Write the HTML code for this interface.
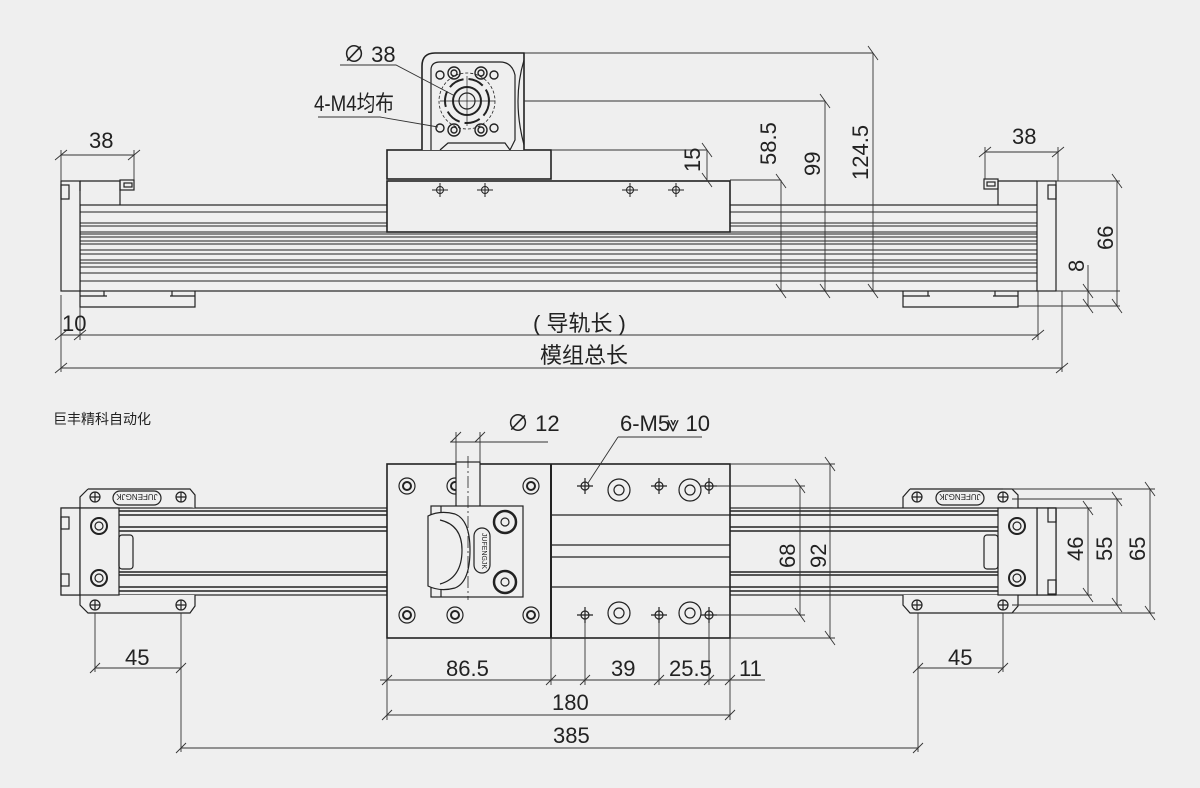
<!DOCTYPE html>
<html><head><meta charset="utf-8"><style>
html,body{margin:0;padding:0;background:#efefef;}
svg{display:block}
text{font-family:"Liberation Sans","Noto Sans CJK SC",sans-serif;fill:#222}
.d{font-size:22px}
</style></head><body>
<svg width="1200" height="788" viewBox="0 0 1200 788" xmlns="http://www.w3.org/2000/svg">
<rect width="1200" height="788" fill="#efefef"/>
<g fill="none" stroke="#222" stroke-width="1.2">
<!-- ================= TOP VIEW ================= -->
<!-- rail -->
<rect x="80" y="205" width="958" height="86"/>
<g stroke-width="1">
<line x1="80" y1="212" x2="1038" y2="212"/>
<line x1="80" y1="223" x2="1038" y2="223"/>
<line x1="80" y1="226" x2="1038" y2="226"/>
<line x1="80" y1="232" x2="1038" y2="232"/>
<line x1="80" y1="234" x2="1038" y2="234"/>
<line x1="80" y1="237" x2="1038" y2="237"/>
<line x1="80" y1="241" x2="1038" y2="241"/>
<line x1="80" y1="244" x2="1038" y2="244"/>
<line x1="80" y1="250" x2="1038" y2="250"/>
<line x1="80" y1="254" x2="1038" y2="254"/>
<line x1="80" y1="260" x2="1038" y2="260"/>
<line x1="80" y1="263" x2="1038" y2="263"/>
<line x1="80" y1="267" x2="1038" y2="267"/>
<line x1="80" y1="273" x2="1038" y2="273"/>
<line x1="80" y1="281" x2="1038" y2="281"/>
</g>
<!-- left cap -->
<rect x="61" y="181" width="19" height="110" fill="#efefef"/>
<rect x="61" y="185" width="8" height="14"/>
<path d="M80 181 H120 V205 M80 181 V191"/>
<rect x="120" y="180" width="14" height="10"/>
<rect x="124" y="183" width="8" height="4"/>
<!-- left foot -->
<path d="M80 291 V307 H195 V291"/>
<path d="M80 296 H107 M170 296 H195 M104 291 V296 M172 291 V296"/>
<!-- right cap -->
<rect x="1037" y="181" width="19" height="110" fill="#efefef"/>
<rect x="1048" y="185" width="8" height="14"/>
<path d="M998 181 H1037 M998 181 V205"/>
<rect x="984" y="179" width="14" height="10"/>
<rect x="987" y="182" width="8" height="4"/>
<!-- right foot -->
<path d="M903 291 V307 H1018 V291"/>
<path d="M903 296 H930 M993 296 H1018 M928 291 V296 M995 291 V296"/>
<!-- carriage -->
<rect x="387" y="181" width="343" height="51" fill="#efefef" stroke-width="1.6"/>
<rect x="387" y="150" width="164" height="29" fill="#efefef" stroke-width="1.6"/>
<!-- holes -->
<g stroke-width="1">
<circle cx="440" cy="190" r="3.5"/><path d="M432 190H448M440 183V197"/>
<circle cx="485" cy="190" r="3.5"/><path d="M477 190H493M485 183V197"/>
<circle cx="630" cy="190" r="3.5"/><path d="M622 190H638M630 183V197"/>
<circle cx="676" cy="190" r="3.5"/><path d="M668 190H684M676 183V197"/>
</g>
<!-- motor -->
<path d="M422 150 V66 Q422 53 435 53 H524 V150" stroke-width="1.6" fill="#efefef"/>
<path d="M431 150 V70 Q431 62 440 62 H500 Q512 62 515 75 V140 L510 150"/>
<path d="M440 150 L448 143 H505 L510 150"/>
<path d="M524 60 Q512 100 524 145"/>
<circle cx="467" cy="101" r="28" stroke-dasharray="3 2" stroke-width="0.8"/>
<circle cx="467" cy="101" r="22" stroke-width="2" stroke-dasharray="16 5"/>
<circle cx="467" cy="101" r="14" stroke-width="2"/>
<circle cx="467" cy="101" r="8"/>
<path d="M440 101H495M467 76V126" stroke-width="0.7"/>
<g stroke-width="1.4">
<circle cx="454" cy="73" r="6"/><circle cx="454" cy="73" r="3"/>
<circle cx="481" cy="73" r="6"/><circle cx="481" cy="73" r="3"/>
<circle cx="454" cy="130" r="6"/><circle cx="454" cy="130" r="3"/>
<circle cx="481" cy="130" r="6"/><circle cx="481" cy="130" r="3"/>
<circle cx="440" cy="75" r="4"/><circle cx="494" cy="75" r="4"/>
<circle cx="440" cy="128" r="4"/><circle cx="494" cy="128" r="4"/>
</g>
</g>
<!-- top view dimensions -->
<g fill="none" stroke="#333" stroke-width="0.9">
<path d="M340 65 H396 L455 96"/>
<path d="M318 117 H380 L438 127"/>
<path d="M524 53 H873 M524 101 H825 M551 150 H707 M730 180 H781"/>
<path d="M873 53 V291 M825 101 V291 M781 180 V291 M707 150 V180"/>
<path d="M868 46 L878 60 M820 94 L830 108 M776 174 L786 188 M868 284 L878 298 M820 284 L830 298 M776 284 L786 298 M702 143 L712 157 M702 173 L712 187"/>
<path d="M61 155 H134 M61 150 V181 M134 150 V180 M55 160 L67 150 M128 160 L140 150"/>
<path d="M985 152 H1058 M985 147 V179 M1058 147 V181 M979 157 L991 147 M1052 157 L1064 147"/>
<path d="M1056 181 H1120 M1056 291 H1120 M1018 306 H1120 M1117 181 V306 M1088 265 V306 M1112 174 L1122 188 M1112 299 L1122 313 M1083 284 L1093 298 M1083 299 L1093 313"/>
<path d="M61 295 V372 M80 307 V340 M1038 291 V340 M1062 291 V372"/>
<path d="M61 335 H1038 M61 368 H1062"/>
<path d="M55 340 L67 330 M74 340 L86 330 M1032 340 L1044 330 M55 373 L67 363 M1056 373 L1068 363"/>
</g>
<text class="d" x="343" y="62">∅ 38</text>
<text class="d" x="314" y="111" textLength="80" lengthAdjust="spacingAndGlyphs">4-M4均布</text>
<text class="d" x="89" y="148">38</text>
<text class="d" x="1012" y="144">38</text>
<text class="d" x="62" y="331">10</text>
<text class="d" transform="translate(700,172) rotate(-90)">15</text>
<text class="d" transform="translate(776,165) rotate(-90)">58.5</text>
<text class="d" transform="translate(820,176) rotate(-90)">99</text>
<text class="d" transform="translate(868,180) rotate(-90)">124.5</text>
<text class="d" transform="translate(1113,250) rotate(-90)">66</text>
<text class="d" transform="translate(1084,272) rotate(-90)">8</text>
<text class="d" x="533" y="331" font-size="21">( 导轨长 )</text>
<text class="d" x="540" y="363" font-size="21">模组总长</text>
<text x="53" y="424" font-size="14" fill="#333">巨丰精科自动化</text>

<!-- ================= BOTTOM VIEW ================= -->
<g fill="none" stroke="#222" stroke-width="1.2">
<rect x="61" y="508" width="995" height="87"/>
<g stroke-width="1.4">
<line x1="80" y1="511" x2="1038" y2="511"/>
<line x1="80" y1="515" x2="1038" y2="515"/>
<line x1="80" y1="527" x2="1038" y2="527"/>
<line x1="80" y1="531" x2="1038" y2="531"/>
<line x1="80" y1="572" x2="1038" y2="572"/>
<line x1="80" y1="575" x2="1038" y2="575"/>
<line x1="80" y1="587" x2="1038" y2="587"/>
<line x1="80" y1="591" x2="1038" y2="591"/>
</g>
<!-- left end -->
<path d="M88 489 H190 L195 495 V508 M88 489 L80 497 V508 M80 595 V605 L88 613 H190 L195 606 V595" fill="#efefef"/>
<rect x="113" y="491" width="48" height="14" rx="7"/>
<text x="137" y="502" font-size="8" text-anchor="middle" stroke="none" fill="#222" transform="rotate(180 137 498)">JUFENGJK</text>
<circle cx="95" cy="497" r="5"/><path d="M90 497H100M95 492V502"/>
<circle cx="181" cy="497" r="5"/><path d="M176 497H186M181 492V502"/>
<circle cx="95" cy="605" r="5"/><path d="M90 605H100M95 600V610"/>
<circle cx="181" cy="605" r="5"/><path d="M176 605H186M181 600V610"/>
<rect x="61" y="508" width="19" height="87" fill="#efefef"/>
<rect x="61" y="517" width="8" height="12"/><rect x="61" y="574" width="8" height="12"/>
<rect x="80" y="508" width="39" height="87" fill="#efefef"/>
<circle cx="99" cy="526" r="8" stroke-width="2"/><circle cx="99" cy="526" r="4"/>
<circle cx="99" cy="578" r="8" stroke-width="2"/><circle cx="99" cy="578" r="4"/>
<rect x="119" y="535" width="14" height="34" rx="3"/>
<!-- right end -->
<path d="M910 489 H1012 L1018 495 V508 M910 489 L903 497 V508 M903 595 V605 L910 613 H1012 L1018 606 V595" fill="#efefef"/>
<rect x="936" y="491" width="48" height="14" rx="7"/>
<text x="960" y="502" font-size="8" text-anchor="middle" stroke="none" fill="#222" transform="rotate(180 960 498)">JUFENGJK</text>
<circle cx="917" cy="497" r="5"/><path d="M912 497H922M917 492V502"/>
<circle cx="1003" cy="497" r="5"/><path d="M998 497H1008M1003 492V502"/>
<circle cx="917" cy="605" r="5"/><path d="M912 605H922M917 600V610"/>
<circle cx="1003" cy="605" r="5"/><path d="M998 605H1008M1003 600V610"/>
<rect x="1037" y="508" width="19" height="87" fill="#efefef"/>
<rect x="1048" y="508" width="8" height="14"/><rect x="1048" y="580" width="8" height="14"/>
<rect x="998" y="508" width="39" height="87" fill="#efefef"/>
<circle cx="1017" cy="526" r="8" stroke-width="2"/><circle cx="1017" cy="526" r="4"/>
<circle cx="1017" cy="578" r="8" stroke-width="2"/><circle cx="1017" cy="578" r="4"/>
<rect x="984" y="535" width="14" height="34" rx="3"/>
<!-- carriage -->
<rect x="387" y="464" width="343" height="174" fill="#efefef" stroke-width="1.6"/>
<line x1="551" y1="464" x2="551" y2="638" stroke-width="2"/>
<path d="M551 515 H730 M551 545 H730 M551 557 H730 M551 587 H730"/>
<g stroke-width="1.2">
<circle cx="407" cy="486" r="8"/><circle cx="407" cy="486" r="4" stroke-width="2"/>
<circle cx="455" cy="486" r="8"/><circle cx="455" cy="486" r="4" stroke-width="2"/>
<circle cx="531" cy="486" r="8"/><circle cx="531" cy="486" r="4" stroke-width="2"/>
<circle cx="407" cy="615" r="8"/><circle cx="407" cy="615" r="4" stroke-width="2"/>
<circle cx="455" cy="615" r="8"/><circle cx="455" cy="615" r="4" stroke-width="2"/>
<circle cx="531" cy="615" r="8"/><circle cx="531" cy="615" r="4" stroke-width="2"/>
<circle cx="585" cy="486" r="4"/><path d="M577 486H593M585 478V494"/>
<circle cx="659" cy="486" r="4"/><path d="M651 486H667M659 478V494"/>
<circle cx="709" cy="486" r="4"/><path d="M701 486H717M709 478V494"/>
<circle cx="585" cy="615" r="4"/><path d="M577 615H593M585 607V623"/>
<circle cx="659" cy="615" r="4"/><path d="M651 615H667M659 607V623"/>
<circle cx="709" cy="615" r="4"/><path d="M701 615H717M709 607V623"/>
<circle cx="619" cy="490" r="11"/><circle cx="619" cy="490" r="5"/>
<circle cx="690" cy="490" r="11"/><circle cx="690" cy="490" r="5"/>
<circle cx="619" cy="613" r="11"/><circle cx="619" cy="613" r="5"/>
<circle cx="690" cy="613" r="11"/><circle cx="690" cy="613" r="5"/>
</g>
<!-- motor (bottom) -->
<rect x="456" y="462" width="24" height="46" fill="#efefef"/>
<rect x="431" y="506" width="92" height="91" fill="#efefef"/>
<path d="M441 506 V597"/>
<path d="M428 516 Q440 510 455 514 Q470 520 470 550 Q470 582 455 588 Q440 592 428 586 Z" fill="#efefef"/>
<path d="M440 520 Q462 525 462 550 Q462 578 440 584"/>
<rect x="474" y="528" width="16" height="45" rx="8"/>
<text x="482" y="551" font-size="7" text-anchor="middle" stroke="none" fill="#222" transform="rotate(90 482 551)">JUFENGJK</text>
<circle cx="505" cy="522" r="11" stroke-width="2.5"/><circle cx="505" cy="522" r="4"/>
<circle cx="505" cy="582" r="11" stroke-width="2.5"/><circle cx="505" cy="582" r="4"/>
<line x1="468" y1="456" x2="468" y2="600" stroke-dasharray="12 3 2 3" stroke-width="0.8"/>
</g>
<!-- bottom dimensions -->
<g fill="none" stroke="#333" stroke-width="0.9">
<path d="M456 432 V462 M480 432 V462 M450 442 H548 M451 442 L461 432 M475 442 L485 432"/>
<path d="M618 437 H702 M618 437 L588 483"/>
<path d="M730 464 H835 M714 486 H805 M714 615 H805 M730 638 H835"/>
<path d="M830 464 V638 M800 486 V615 M825 457 L835 471 M825 631 L835 645 M795 479 L805 493 M795 608 L805 622"/>
<path d="M1003 489 H1155 M1012 499 H1122 M1056 508 H1092 M1056 595 H1092 M1012 605 H1122 M1003 613 H1155"/>
<path d="M1088 508 V595 M1117 499 V605 M1150 489 V613 M1083 501 L1093 515 M1083 588 L1093 602 M1112 492 L1122 506 M1112 598 L1122 612 M1145 482 L1155 496 M1145 606 L1155 620"/>
<path d="M95 613 V672 M181 613 V752 M918 613 V752 M1003 613 V672 M95 668 H181 M918 668 H1003"/>
<path d="M90 673 L100 663 M176 673 L186 663 M913 673 L923 663 M998 673 L1008 663"/>
<path d="M387 638 V720 M551 638 V685 M585 623 V685 M659 623 V685 M709 623 V685 M730 638 V720"/>
<path d="M380 680 H765 M382 685 L392 675 M546 685 L556 675 M580 685 L590 675 M654 685 L664 675 M704 685 L714 675 M725 685 L735 675"/>
<path d="M387 715 H730 M382 720 L392 710 M725 720 L735 710"/>
<path d="M181 748 H918 M176 753 L186 743 M913 753 L923 743"/>
</g>
<text class="d" x="507" y="431">∅ 12</text>
<text class="d" x="620" y="431">6-M5</text>
<text class="d" x="667" y="431">⩔ 10</text>
<text class="d" transform="translate(795,568) rotate(-90)">68</text>
<text class="d" transform="translate(826,568) rotate(-90)">92</text>
<text class="d" transform="translate(1083,561) rotate(-90)">46</text>
<text class="d" transform="translate(1112,561) rotate(-90)">55</text>
<text class="d" transform="translate(1145,561) rotate(-90)">65</text>
<text class="d" x="125" y="665">45</text>
<text class="d" x="948" y="665">45</text>
<text class="d" x="446" y="676">86.5</text>
<text class="d" x="611" y="676">39</text>
<text class="d" x="669" y="676">25.5</text>
<text class="d" x="739" y="676">11</text>
<text class="d" x="552" y="710">180</text>
<text class="d" x="553" y="743">385</text>
</svg>
</body></html>
